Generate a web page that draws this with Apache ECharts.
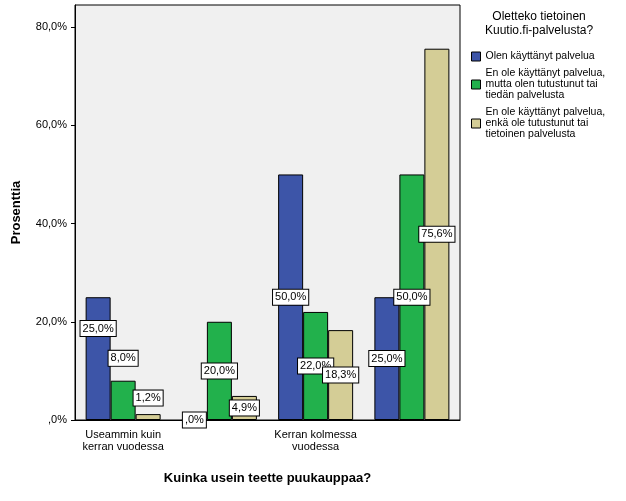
<!DOCTYPE html><html><head><meta charset="utf-8">
<script src="https://cdn.jsdelivr.net/npm/echarts@6/dist/echarts.min.js"></script>
<style>html,body{margin:0;background:#fff}#c{width:626px;height:501px}</style></head><body><div id="c"></div>
<script>
const categories=['Useammin kuin\nkerran vuodessa','Kerran vuodessa','Kerran kolmessa\nvuodessa','Kerran viidessä\nvuodessa tai\nharvemmin'];
const seriesNames=['Olen käyttänyt palvelua','En ole käyttänyt palvelua,\nmutta olen tutustunut tai\ntiedän palvelusta','En ole käyttänyt palvelua,\nenkä ole tutustunut tai\ntietoinen palvelusta'];
const used=[25.0,0.0,50.0,25.0];
const knows=[8.0,20.0,22.0,50.0];
const unaware=[1.2,4.9,18.3,75.6];
const labelOffsets=[[-30,0,0,0],[-42,0,0,0],[-19,0,0,0]];
const colors=['#3D55A8','#22B14C','#D4CD96'];
const yTicks=[0,20,40,60,80];
const fmt=v=>(v===0?',0':v.toFixed(1).replace('.',','))+'%';
const mk=(name,vals,i)=>({name,type:'bar',barWidth:25,barGap:'0%',
 itemStyle:{color:colors[i],borderColor:'#000',borderWidth:1},
 data:vals.map((v,j)=>({value:v,label:{offset:[0,labelOffsets[i][j]]}})),
 label:{show:true,position:'inside',formatter:p=>fmt(p.value),color:'#000',fontSize:11,fontFamily:'Liberation Sans',
  backgroundColor:'#fff',borderColor:'#000',borderWidth:1,padding:[2,2]}});
const chart=echarts.init(document.getElementById('c'));
chart.setOption({
 animation:false,
 grid:{left:75,right:166,top:5,bottom:81,show:true,backgroundColor:'#F0F0F0',borderColor:'#000',borderWidth:1},
 legend:{orient:'vertical',left:466,top:46,itemWidth:9,itemHeight:9,itemGap:6,icon:'rect',
  textStyle:{fontSize:10.5,fontFamily:'Liberation Sans',color:'#000',lineHeight:11},
  itemStyle:{borderColor:'#000',borderWidth:1}},
 graphic:[{type:'text',left:485,top:10,style:{text:'Oletteko tietoinen\nKuutio.fi-palvelusta?',font:'12px Liberation Sans',fill:'#000',textAlign:'center',lineHeight:14}}],
 xAxis:{type:'category',data:categories,name:'Kuinka usein teette puukauppaa?',nameLocation:'middle',nameGap:52,
  nameTextStyle:{fontWeight:'bold',fontSize:13,fontFamily:'Liberation Sans',color:'#000'},
  axisLine:{lineStyle:{color:'#000'}},axisTick:{show:false},
  axisLabel:{color:'#000',fontSize:11,fontFamily:'Liberation Sans',lineHeight:12,margin:9}},
 yAxis:{type:'value',min:0,max:84.5,interval:20,name:'Prosenttia',nameLocation:'middle',nameGap:52,
  nameTextStyle:{fontWeight:'bold',fontSize:13,fontFamily:'Liberation Sans',color:'#000'},
  splitLine:{show:false},axisLine:{show:true,lineStyle:{color:'#000'}},axisTick:{show:true,length:4,lineStyle:{color:'#000'}},
  axisLabel:{color:'#000',fontSize:11,fontFamily:'Liberation Sans',showMaxLabel:false,formatter:v=>yTicks.includes(v)?fmt(v):''}},
 series:[mk(seriesNames[0],used,0),mk(seriesNames[1],knows,1),mk(seriesNames[2],unaware,2)]
});
</script></body></html>
